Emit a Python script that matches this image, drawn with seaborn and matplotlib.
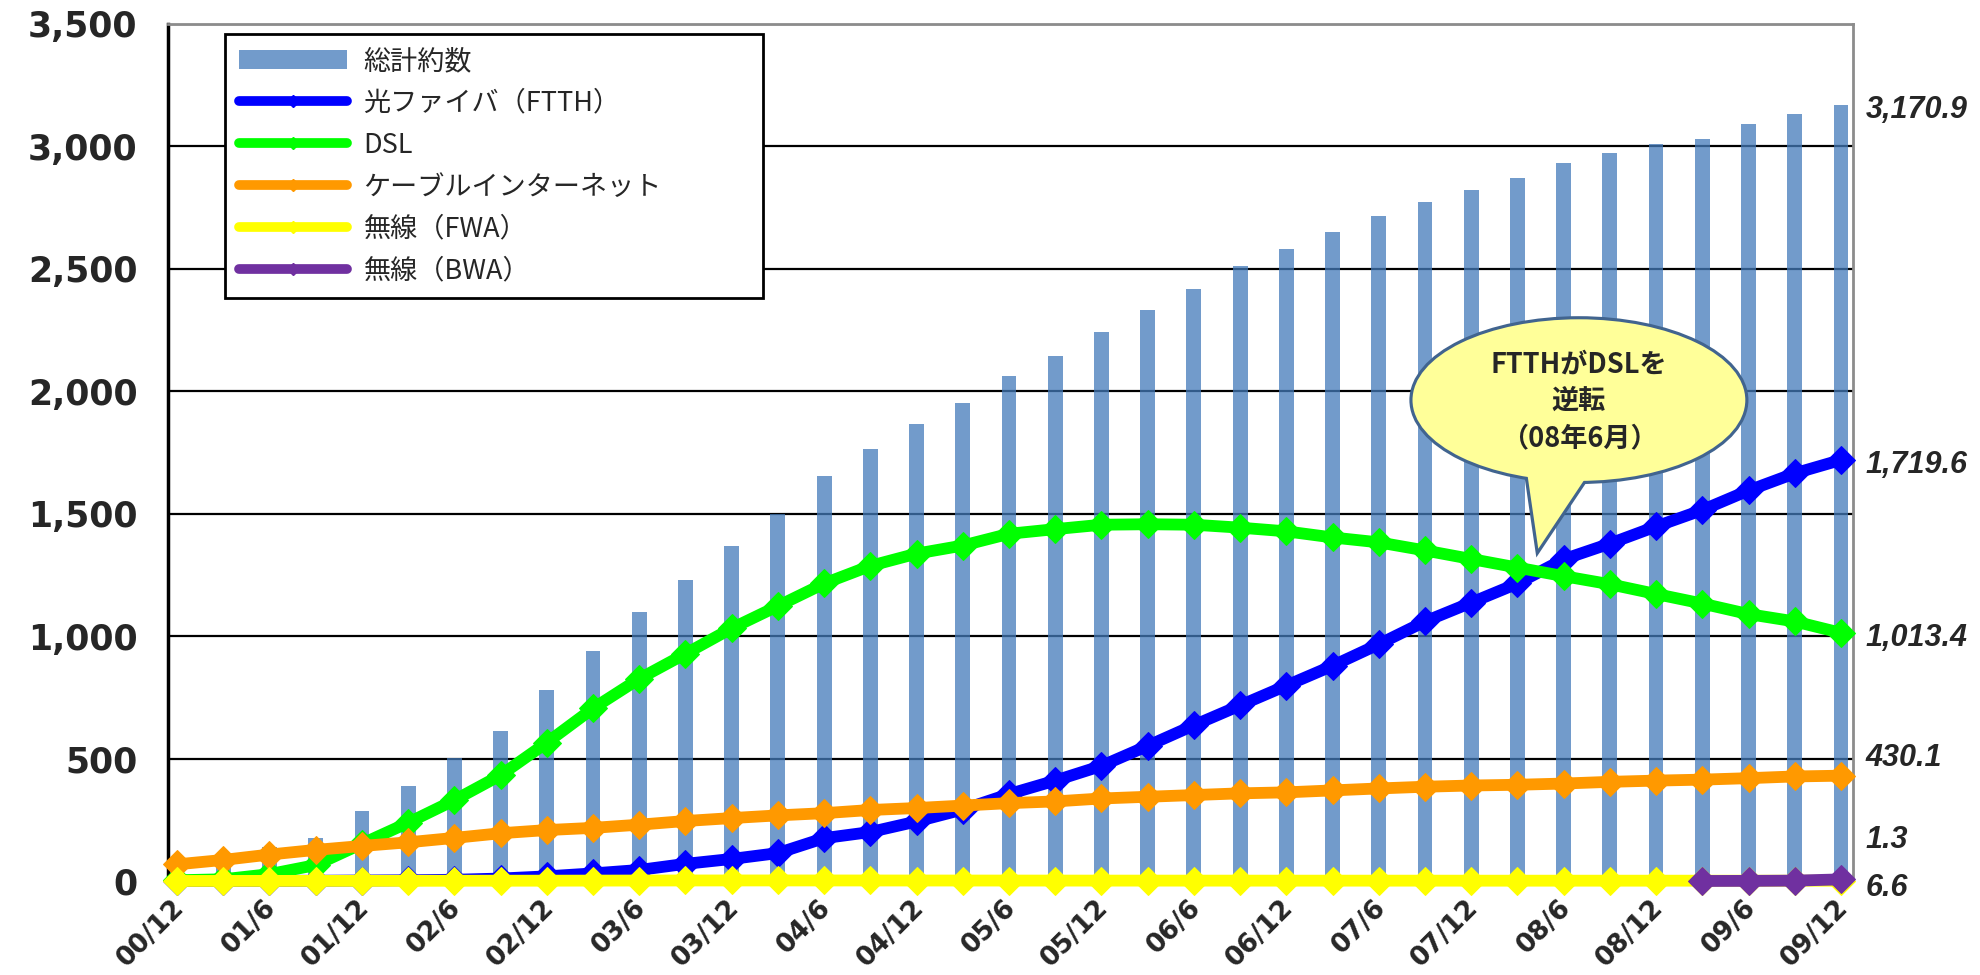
#!/usr/bin/env python
# coding: utf-8

import numpy as np
import matplotlib
matplotlib.use('Agg')
import matplotlib.pyplot as plt
import matplotlib.transforms as mtransforms
from matplotlib.patches import Ellipse, Polygon, Patch
from matplotlib.lines import Line2D
import seaborn as sns


# quarterly data, unit: 万契約
periods = ['00/12', '01/3', '01/6', '01/9', '01/12', '02/3', '02/6', '02/9', '02/12',
           '03/3', '03/6', '03/9', '03/12', '04/3', '04/6', '04/9', '04/12',
           '05/3', '05/6', '05/9', '05/12', '06/3', '06/6', '06/9', '06/12',
           '07/3', '07/6', '07/9', '07/12', '08/3', '08/6', '08/9', '08/12',
           '09/3', '09/6', '09/9', '09/12']

total = [80, 100, 140, 177, 285, 386, 503, 612, 780, 940, 1099, 1229, 1367, 1497, 1655, 1766, 1866,
         1954, 2063, 2144, 2243, 2331, 2419, 2512, 2580, 2652, 2714, 2774, 2823, 2873, 2933, 2973, 3011,
         3032, 3092, 3131, 3170.9]

ftth = [0, 0.1, 0.5, 1, 2, 3, 5, 10, 19, 31, 45, 70, 90, 114, 175, 200, 243,
        292, 355, 410, 470, 552, 636, 717, 798, 879, 967, 1060, 1137, 1215, 1314, 1378, 1448,
        1515, 1595, 1665, 1719.6]

dsl = [3, 7, 28, 65, 152, 238, 330, 432, 565, 705, 826, 928, 1032, 1123, 1215, 1287, 1337,
       1370, 1418, 1437, 1455, 1457, 1455, 1443, 1428, 1403, 1383, 1350, 1315, 1280, 1245, 1212, 1172,
       1133, 1090, 1060, 1013.4]

cable = [68, 86, 108, 127, 143, 158, 176, 195, 208, 217, 230, 245, 257, 268, 277, 290, 298,
         308, 318, 325, 337, 344, 351, 358, 362, 370, 378, 385, 390, 393, 398, 405, 410,
         414, 420, 427, 430.1]

fwa = [0.1, 0.2, 0.4, 0.5, 0.6, 0.8, 1.0, 1.2, 1.3, 1.6, 1.9, 2.2, 2.2, 2.3, 2.2, 2.1, 2.0,
       1.9, 1.8, 1.7, 1.6, 1.6, 1.5, 1.5, 1.4, 1.4, 1.4, 1.4, 1.3, 1.3, 1.3, 1.3, 1.3,
       1.3, 1.3, 1.3, 1.3]

bwa_periods = ['09/3', '09/6', '09/9', '09/12']
bwa = [0.1, 0.5, 1.5, 6.6]

series_names = ['光ファイバ（FTTH）', 'DSL', 'ケーブルインターネット', '無線（FWA）', '無線（BWA）']
series_colors = ['#0000FF', '#00FF00', '#FF9900', '#FFFF00', '#7030A0']
bar_name = '総計約数'
bar_color = '#437ABA'

# end-of-series value labels and where they sit (value axis)
end_labels = ['3,170.9', '1,719.6', '1,013.4', '430.1', '1.3', '6.6']
end_label_y = [3148, 1697, 994, 503, 168, -28]

callout_text = 'FTTHがDSLを\n逆転\n（08年6月）'


def plot_broadband(output_filename):
    sns.set_style('white')
    plt.rcParams['font.family'] = ['Noto Sans CJK JP', 'DejaVu Sans']

    fig = plt.figure(figsize=(19.8, 9.75), dpi=100)
    ax = fig.add_axes([168 / 1980, 1 - 881 / 975, 1685 / 1980, 857 / 975])

    pos = np.arange(len(periods))

    sns.barplot(x=pos, y=total, native_scale=True, width=0.32, color=bar_color,
                saturation=1, alpha=0.75, linewidth=0, ax=ax, zorder=2)

    lines = [ftth, dsl, cable, fwa]
    for vals, color, z in zip(lines, series_colors[:4], [4, 5, 6, 7]):
        sns.lineplot(x=pos, y=vals, color=color, lw=8.5, marker='D', markersize=14,
                     markeredgecolor=color, ax=ax, zorder=z, clip_on=False)
    bwa_pos = [periods.index(p) for p in bwa_periods]
    sns.lineplot(x=bwa_pos, y=bwa, color=series_colors[4], lw=8.5, marker='D', markersize=14,
                 markeredgecolor=series_colors[4], ax=ax, zorder=8, clip_on=False)

    ax.set_xlim(-0.195, 36.26)
    ax.set_ylim(0, 3500)
    ax.set_yticks(np.arange(0, 3501, 500))
    ax.set_yticklabels([f'{v:,}' for v in range(0, 3501, 500)])
    ax.set_xticks(pos[::2])
    ax.set_xticklabels(periods[::2])
    ax.set_xlabel('')
    ax.set_ylabel('')

    ax.yaxis.grid(True, color='black', lw=1.6)
    ax.xaxis.grid(False)
    ax.set_axisbelow(True)

    ax.spines['left'].set_color('black')
    ax.spines['left'].set_linewidth(2.5)
    ax.spines['bottom'].set_color('black')
    ax.spines['bottom'].set_linewidth(1.5)
    for s in ['top', 'right']:
        ax.spines[s].set_color('#8c8c8c')
        ax.spines[s].set_linewidth(2)

    ax.tick_params(axis='both', length=0)
    ax.tick_params(axis='y', pad=22)
    ax.tick_params(axis='x', pad=10)
    for lbl in ax.get_yticklabels():
        lbl.set_fontfamily('DejaVu Sans')
        lbl.set_fontweight('bold')
        lbl.set_fontsize(25)
    offset = mtransforms.ScaledTranslation(-6 / 100, 0, fig.dpi_scale_trans)
    for lbl in ax.get_xticklabels():
        lbl.set_fontfamily('DejaVu Sans')
        lbl.set_fontweight('bold')
        lbl.set_fontsize(19)
        lbl.set_rotation(45)
        lbl.set_ha('right')
        lbl.set_va('top')
        lbl.set_rotation_mode('anchor')
        lbl.set_transform(lbl.get_transform() + offset)

    # value labels at the right end
    for txt, y in zip(end_labels, end_label_y):
        ax.text(36.54, y, txt, ha='left', va='center', fontsize=22, fontweight='bold',
                fontstyle='italic', family='Liberation Sans', clip_on=False)

    # legend
    handles = [Patch(facecolor=bar_color, alpha=0.75, edgecolor='none')]
    for color in series_colors:
        handles.append(Line2D([], [], color=color, lw=7, marker='D', markersize=6))
    leg = ax.legend(handles, [bar_name] + series_names, loc='upper left',
                    bbox_to_anchor=(0.034, 0.5, 0.319, 0.488), mode='expand',
                    borderaxespad=0, fontsize=19.5,
                    handlelength=4.0, handleheight=0.7, handletextpad=0.6,
                    labelspacing=0.55, borderpad=0.5, frameon=True, fancybox=False,
                    edgecolor='black', framealpha=1)
    leg.get_frame().set_linewidth(2)
    leg.set_zorder(20)

    # speech bubble
    edge = '#41648F'
    fill = '#FFFF99'
    ax.add_patch(Ellipse((30.33, 1964), 7.2, 660, facecolor=fill, edgecolor=edge, lw=4.5, zorder=10))
    ax.add_patch(Polygon([(29.15, 1700), (29.43, 1339), (30.6, 1670)], closed=False,
                         facecolor=fill, edgecolor=edge, lw=2.3, zorder=11, joinstyle='miter'))
    ax.add_patch(Ellipse((30.33, 1964), 7.2, 660, facecolor=fill, edgecolor='none', zorder=12))
    ax.text(30.33, 1960, callout_text, ha='center', va='center', fontsize=19.5,
            fontweight='bold', linespacing=1.4, zorder=13)

    plt.savefig(output_filename, dpi=100)


def main():
    plot_broadband('out.png')


if __name__ == "__main__":
    main()
